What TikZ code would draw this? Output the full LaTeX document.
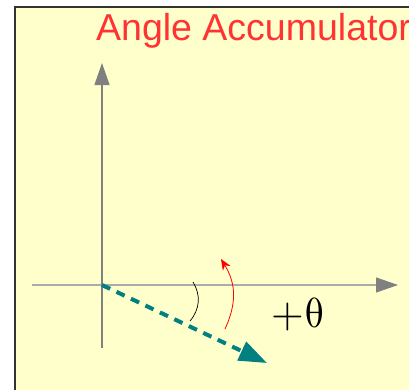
\documentclass[tikz,border=0pt]{standalone}
\usepackage{fontspec}
\setmainfont{Liberation Sans}
\usepackage{unicode-math}
\usetikzlibrary{arrows.meta}
\definecolor{panel}{HTML}{FFFFCC}
\definecolor{titlered}{HTML}{FF3333}
\definecolor{tealc}{HTML}{008080}
\definecolor{axisline}{HTML}{ABABAB}
\begin{document}
\begin{tikzpicture}[x=1pt,y=-1pt,
  axis/.style={line width=1.2pt,-{Triangle[length=22pt,width=15pt,fill=gray,color=gray]}},
  vec/.style={tealc,line width=4pt,dash pattern=on 9pt off 7pt,-{Triangle[length=28pt,width=20pt]}},
  turn/.style={red,line width=0.8pt,-{Stealth[length=11pt,width=9pt]}},
  anglearc/.style={black,line width=0.7pt}]
\useasboundingbox (0,0) rectangle (409,389);
\fill[white] (0,0) rectangle (409,389);
\fill[panel] (15,7) rectangle (412,392);
\draw[black!80,line width=1.2pt] (15,392) -- (15,7) -- (412,7);
\node[anchor=west,text=titlered,font=\fontsize{37.5}{40}\selectfont,inner sep=0pt] (title) at (96,31) {Angle Accumulator};
\coordinate (O) at (102,285);
\coordinate (xl) at (32,285);
\coordinate (xr) at (398,285);
\coordinate (yb) at (102,348);
\coordinate (yt) at (102,63);
\coordinate (v) at (267,363);
\draw[axis,axisline] (xl) -- (xr);
\draw[axis,gray] (yb) -- (yt);
\draw[vec] (O) -- (v);
\coordinate (a1) at (193,282);
\coordinate (a2) at (190,321);
\draw[anglearc] (a1) .. controls (201,295) and (200,309) .. (a2);
\coordinate (r1) at (225,329);
\coordinate (r2) at (221,259);
\draw[turn] (r1) .. controls (236,305) and (237,285) .. (r2);
\node[font=\fontsize{42}{46}\selectfont,inner sep=0pt] (theta) at (298,314) {$+\uptheta$};
\end{tikzpicture}
\end{document}
